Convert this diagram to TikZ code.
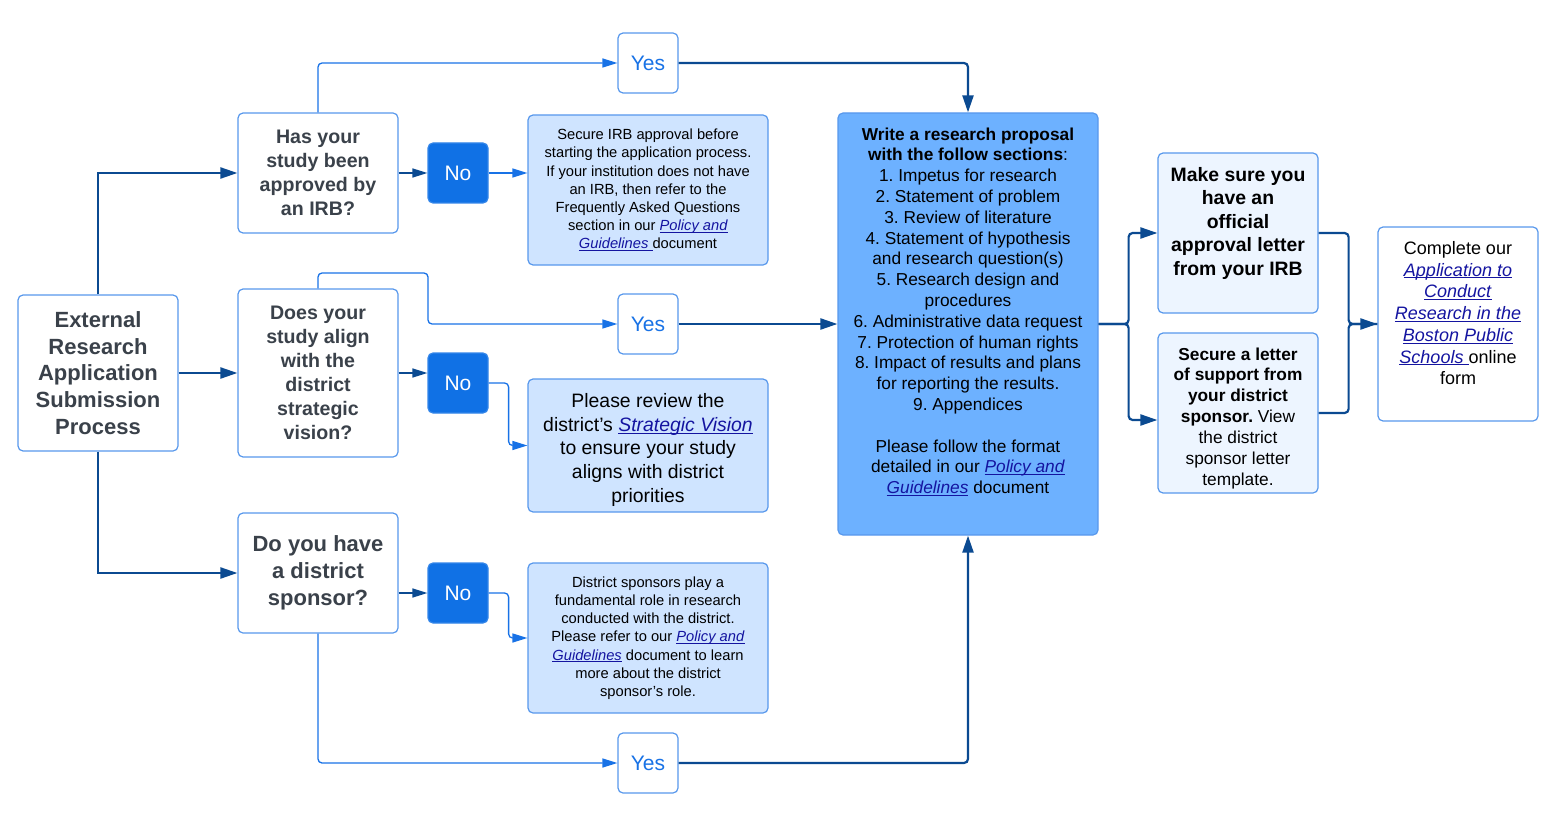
\documentclass[tikz,border=0pt]{standalone}
\usepackage{fontspec}
\setmainfont{Liberation Sans}
\frenchspacing
\usetikzlibrary{arrows.meta,calc}
\definecolor{BoxLine}{RGB}{88,152,236}
\definecolor{DarkLine}{RGB}{11,74,145}
\definecolor{LightLine}{RGB}{24,114,230}
\definecolor{NoFill}{RGB}{16,113,229}
\definecolor{InfoFill}{RGB}{207,228,255}
\definecolor{PropFill}{RGB}{109,177,255}
\definecolor{LetterFill}{RGB}{237,245,255}
\definecolor{QText}{RGB}{58,65,74}
\definecolor{LinkClr}{RGB}{20,20,160}
\newcommand{\lnk}[1]{\textcolor{LinkClr}{\underline{\smash{\textit{#1}}}}}
\newcommand{\fs}[2]{\fontsize{#1}{#2}\selectfont}

\begin{document}
\begin{tikzpicture}[x=1pt,y=-1pt,
  box/.style={draw=BoxLine,line width=1.2pt,rounded corners=5pt,align=center,inner sep=0pt},
  qbox/.style={box,fill=white,text=QText,minimum width=160pt},
  nobox/.style={box,fill=NoFill,draw=NoFill!85!white,text=white,minimum width=60pt,minimum height=60pt,font=\fs{21}{25}},
  yesbox/.style={box,fill=white,text=LightLine,minimum width=60pt,minimum height=60pt,font=\fs{21}{25}},
  infobox/.style={box,fill=InfoFill,minimum width=240pt},
  main/.style={draw=DarkLine,line width=2.2pt,-{Triangle[length=17pt,width=11pt]}},
  thin/.style={draw=DarkLine,line width=1.4pt,-{Triangle[length=15pt,width=9pt]}},
  light/.style={draw=LightLine,line width=1.3pt,rounded corners=4pt,-{Triangle[length=15pt,width=9pt]}}]
\useasboundingbox (0,0) rectangle (1566,813);

% boxes
\node[qbox,minimum height=156pt,font=\bfseries\fs{22}{26.8}] (start) at (98,373)
  {External\\Research\\Application\\Submission\\Process};
\node[qbox,minimum height=120pt,font=\bfseries\fs{19.6}{24}] (q1) at (318,173)
  {Has your\\study been\\approved by\\an IRB?};
\node[qbox,minimum height=168pt,font=\bfseries\fs{19.6}{24}] (q2) at (318,373)
  {Does your\\study align\\with the\\district\\strategic\\vision?};
\node[qbox,minimum height=120pt,font=\bfseries\fs{22}{26.8}] (q3) at (318,573)
  {Do you have\\a district\\sponsor?};

\node[nobox] (no1) at (458,173) {No};
\node[nobox] (no2) at (458,383) {No};
\node[nobox] (no3) at (458,593) {No};

\node[yesbox] (yes1) at (648,63) {Yes};
\node[yesbox] (yes2) at (648,324) {Yes};
\node[yesbox] (yes3) at (648,763) {Yes};

\node[infobox,minimum height=150pt,font=\fs{14.7}{18.2}] (info1) at (648,190)
  {Secure IRB approval before\\starting the application process.\\If your institution does not have\\an IRB, then refer to the\\Frequently Asked Questions\\section in our \lnk{Policy and}\\\lnk{Guidelines\ }document};
\node[infobox,minimum height=133pt,font=\fs{19.4}{23.6}] (info2) at (648,445.5)
  {\rule{0pt}{23pt}Please review the\\district’s \lnk{Strategic Vision}\\to ensure your study\\aligns with district\\priorities};
\node[infobox,minimum height=150pt,font=\fs{14.7}{18.2}] (info3) at (648,638)
  {District sponsors play a\\fundamental role in research\\conducted with the district.\\Please refer to our \lnk{Policy and}\\\lnk{Guidelines} document to learn\\more about the district\\sponsor’s role.};

\node[box,fill=PropFill,minimum width=260pt,minimum height=422pt,font=\fs{17.3}{20.8}] (prop) at (968,324)
  {\textbf{Write a research proposal}\\\textbf{with the follow sections}:\\1. Impetus for research\\2. Statement of problem\\3. Review of literature\\4. Statement of hypothesis\\and research question(s)\\5. Research design and\\procedures\\6. Administrative data request\\7. Protection of human rights\\8. Impact of results and plans\\for reporting the results.\\9. Appendices\\\mbox{}\\Please follow the format\\detailed in our \lnk{Policy and}\\\lnk{Guidelines} document\\[6pt]\mbox{}};

\node[box,fill=LetterFill,minimum width=160pt,minimum height=160pt,font=\bfseries\fs{19.4}{23.5}] (irb) at (1238,233)
  {Make sure you\\have an\\official\\approval letter\\from your IRB\\\mbox{}};
\node[box,fill=LetterFill,minimum width=160pt,minimum height=160pt,font=\fs{17.3}{20.9}] (spons) at (1238,413)
  {\rule{0pt}{23pt}\textbf{Secure a letter}\\\textbf{of support from}\\\textbf{your district}\\\textbf{sponsor.} View\\the district\\sponsor letter\\template.};
\node[box,fill=white,minimum width=160pt,minimum height=194pt,font=\fs{18}{21.7}] (form) at (1458,324)
  {Complete our\\\lnk{Application to}\\\lnk{Conduct}\\\lnk{Research in the}\\\lnk{Boston Public}\\\lnk{Schools\ }online\\form\\\mbox{}};

% connectors
\draw[main] (start.north) |- (q1.west);
\draw[main] (start.east) -- (q2.west);
\draw[main] (start.south) |- (q3.west);

\draw[thin] (q1.east) -- (no1.west);
\draw[thin] (q2.east) -- ([yshift=10pt]no2.west);
\draw[thin] ([yshift=-20pt]q3.east) -- (no3.west);

\draw[light] (no1.east) -- (info1.west |- no1.east);
\draw[light] (no2.east) -- ++(20,0) |- (info2.west);
\draw[light] (no3.east) -- ++(20,0) |- (info3.west);

\coordinate (k2) at (428,273);
\draw[light] (q1.north) |- (yes1.west);
\draw[light] (q2.north) |- (k2) |- (yes2.west);
\draw[light] (q3.south) |- (yes3.west);

\draw[main,rounded corners=4pt] (yes1.east) -| (prop.north);
\draw[main] (yes2.east) -- (prop.west);
\draw[main,rounded corners=4pt] (yes3.east) -| (prop.south);

\draw[main,rounded corners=4pt] (prop.east) -- ++(30,0) |- (irb.west);
\draw[main,rounded corners=4pt] (prop.east) -- ++(30,0) |- ([yshift=-7pt]spons.west);
\draw[main,rounded corners=4pt,-] (spons.east) -- ++(30,0) |- (form.west);
\draw[main,rounded corners=4pt] (irb.east) -- ++(30,0) |- (form.west);

\end{tikzpicture}
\end{document}
